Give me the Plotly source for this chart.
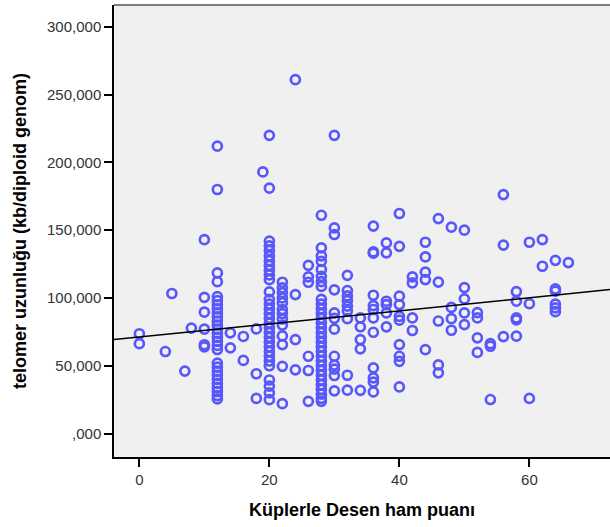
import plotly.graph_objects as go

# Küplerle Desen ham puanı (x) and telomer uzunluğu (y), grouped by score
score_0 = [73600, 66300]
score_4 = [60500]
score_5 = [103300]
score_7 = [46100]
score_8 = [77800]
score_10 = [143000, 100500, 89500, 77000, 65500, 64000]
score_12 = [212000, 180000, 118500, 112000, 101000, 98000, 95000, 92000, 89000, 86000,
            83000, 80000, 77000, 74000, 71000, 68000, 65000, 62000, 52000, 49000,
            46000, 43000, 40000, 37000, 34000, 31000, 28000, 25500]
score_14 = [74300, 63200]
score_16 = [71600, 53900]
score_18 = [77200, 44100, 25900]
score_19 = [193000]
score_20 = [220000, 181000, 142000, 138500, 135000, 131000, 127500, 124000, 120500, 117000,
            113500, 104500, 99000, 95500, 92000, 88500, 85000, 81500, 78000, 74500,
            71000, 67500, 64000, 60500, 57000, 53500, 50000, 39500, 35000, 30000, 25000]
score_22 = [111600, 107500, 104000, 100000, 96500, 91500, 88500, 84500, 80000, 72000,
            65600, 49600, 22000]
score_24 = [261000, 102500, 69300, 47000]
score_26 = [124100, 115600, 111600, 57000, 46500, 23800]
score_28 = [161000, 137000, 131000, 127000, 121000, 116000, 112000, 108500, 99000, 95500,
            92000, 88500, 85000, 81500, 78000, 74500, 71000, 67500, 64000, 60500,
            57000, 53500, 50000, 46500, 43000, 39500, 36000, 32500, 29000, 26000, 23800]
score_30 = [220000, 151700, 146800, 106000, 89000, 85000, 77000, 57000, 50500, 47500, 42800, 31500]
score_32 = [116700, 105500, 101500, 98000, 94000, 90500, 84700, 43000, 32000]
score_34 = [85300, 78700, 69300, 62500, 31900]
score_36 = [153000, 134000, 133000, 102000, 94400, 91500, 85300, 74700, 48500, 41100, 38000, 30700]
score_38 = [140600, 133300, 97600, 95100, 89000, 78700]
score_40 = [162300, 138100, 101300, 95100, 86500, 83600, 65600, 57000, 53300, 34400]
score_42 = [115600, 111100, 85300, 76000]
score_44 = [141100, 130300, 119000, 113600, 61900]
score_46 = [158600, 111700, 83000, 50600, 44800]
score_48 = [152200, 93000, 84700, 76200]
score_50 = [150000, 107700, 99300, 89000, 80400]
score_52 = [89200, 85300, 70600, 59800]
score_54 = [66300, 64400, 25100]
score_56 = [176300, 139000, 71500]
score_58 = [104700, 97600, 85300, 83800, 71800]
score_60 = [141100, 95800, 25900]
score_62 = [143100, 123400]
score_64 = [127800, 106700, 105000, 95400, 92700, 89900]
score_66 = [126100]

groups = {
    0: score_0, 4: score_4, 5: score_5, 7: score_7, 8: score_8, 10: score_10,
    12: score_12, 14: score_14, 16: score_16, 18: score_18, 19: score_19,
    20: score_20, 22: score_22, 24: score_24, 26: score_26, 28: score_28,
    30: score_30, 32: score_32, 34: score_34, 36: score_36, 38: score_38,
    40: score_40, 42: score_42, 44: score_44, 46: score_46, 48: score_48,
    50: score_50, 52: score_52, 54: score_54, 56: score_56, 58: score_58,
    60: score_60, 62: score_62, 64: score_64, 66: score_66,
}

# Linear fit line (as reported by the chart)
fit_intercept = 71200
fit_slope = 483

y_tick_vals = [0, 50000, 100000, 150000, 200000, 250000, 300000]
y_tick_text = [",000", "50,000", "100,000", "150,000", "200,000", "250,000", "300,000"]
x_tick_vals = [0, 20, 40, 60]

x_range = [-3.9, 72.4]
y_range = [-17300, 316100]

xs, ys = [], []
for k, vals in groups.items():
    xs += [k] * len(vals)
    ys += vals

fig = go.Figure()
fig.add_trace(go.Scatter(
    x=xs, y=ys, mode="markers",
    marker=dict(symbol="circle-open", size=9, color="rgb(88,88,250)",
                line=dict(width=2.7, color="rgb(88,88,250)")),
    showlegend=False, hoverinfo="skip",
))
fig.add_trace(go.Scatter(
    x=x_range, y=[fit_intercept + fit_slope * v for v in x_range],
    mode="lines", line=dict(color="black", width=1.5),
    showlegend=False, hoverinfo="skip",
))

tick_font = dict(family="Liberation Sans, Arial, sans-serif", size=15, color="#333333")
title_font = dict(family="Liberation Sans, Arial, sans-serif", size=18, color="black")

fig.update_layout(
    width=610, height=527,
    margin=dict(l=114, r=0, t=5, b=70),
    paper_bgcolor="white", plot_bgcolor="#f0f0f0",
    xaxis=dict(
        range=x_range, tickvals=x_tick_vals, ticks="outside", ticklen=8, tickwidth=1.5,
        tickcolor="black", showline=True, linecolor="black", linewidth=1.5,
        mirror=False, showgrid=False, zeroline=False, tickfont=tick_font,
        title=dict(text="<b>Küplerle Desen ham puanı</b>", font=title_font, standoff=17),
    ),
    yaxis=dict(
        range=y_range, tickvals=y_tick_vals, ticktext=y_tick_text, ticks="outside",
        ticklen=8, tickwidth=1.5, tickcolor="black", showline=True, linecolor="black",
        linewidth=1.5, showgrid=False, zeroline=False, tickfont=tick_font,
        title=dict(text="<b>telomer uzunluğu (kb/diploid genom)</b>", font=title_font, standoff=16),
    ),
    shapes=[dict(type="line", xref="paper", yref="paper", x0=0, x1=1, y0=1, y1=1,
                 line=dict(color="#555555", width=1.5))],
)

fig.write_html("out.html")
